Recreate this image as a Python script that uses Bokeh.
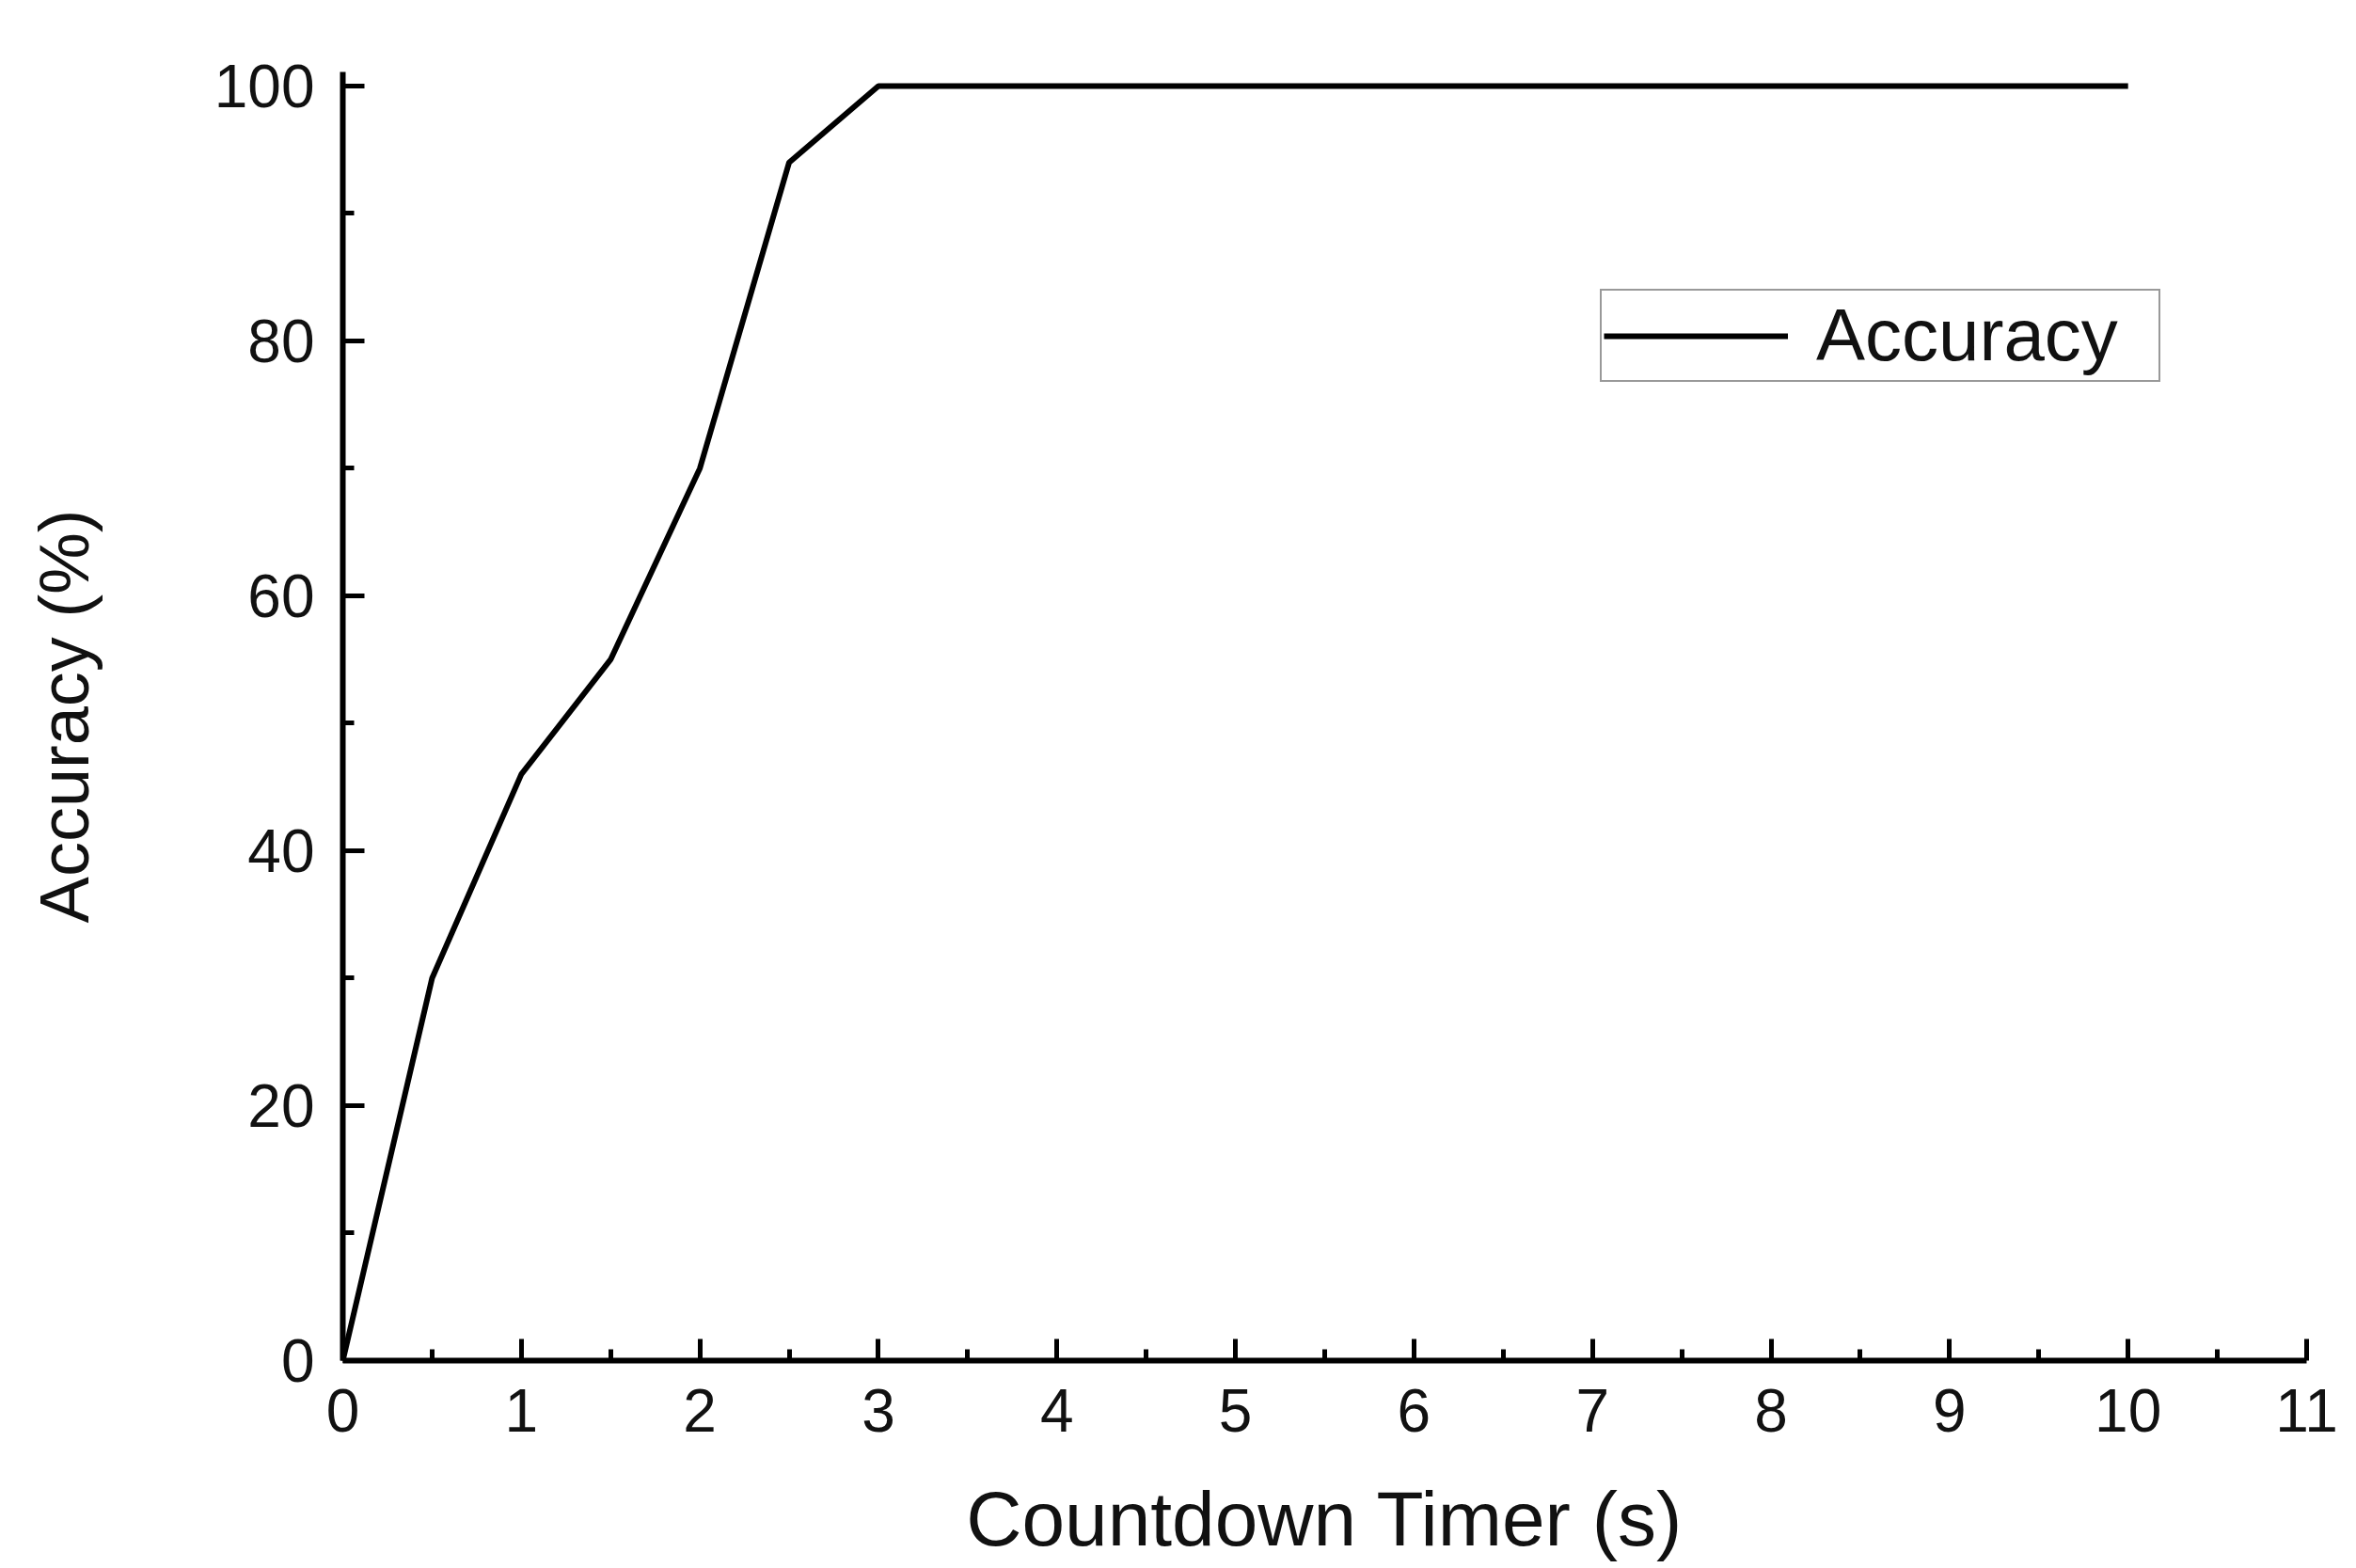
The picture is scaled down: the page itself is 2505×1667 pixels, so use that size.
from bokeh.plotting import figure
from bokeh.models import Range1d, FixedTicker, Legend, LegendItem
from bokeh.embed import file_html
from bokeh.resources import INLINE

# Data
timer_s = [0, 0.5, 1, 1.5, 2, 2.5, 3, 3.5, 4, 4.5, 5, 5.5, 6, 6.5, 7, 7.5, 8, 8.5, 9, 9.5, 10]
accuracy_pct = [0, 30, 46, 55, 70, 94, 100, 100, 100, 100, 100, 100, 100, 100, 100, 100, 100, 100, 100, 100, 100]

x_major_ticks = list(range(0, 12))
x_minor_ticks = [i + 0.5 for i in range(0, 11)]
y_major_ticks = [0, 20, 40, 60, 80, 100]
y_minor_ticks = [10, 30, 50, 70, 90]

FONT = "Liberation Sans"

p = figure(width=2490, height=1664, output_backend="svg", toolbar_location=None,
           x_range=Range1d(0, 11), y_range=Range1d(0, 101.1),
           min_border_left=364, min_border_right=38, min_border_top=76, min_border_bottom=218)

p.background_fill_color = "white"
p.border_fill_color = "white"
p.outline_line_color = None
p.xgrid.visible = False
p.ygrid.visible = False

r = p.line(timer_s, accuracy_pct, line_color="black", line_width=6)

for ax in (p.xaxis[0], p.yaxis[0]):
    ax.axis_line_width = 6
    ax.axis_line_color = "black"
    ax.major_tick_line_width = 5
    ax.minor_tick_line_width = 5
    ax.major_tick_in = 23
    ax.major_tick_out = 0
    ax.minor_tick_in = 12
    ax.minor_tick_out = 0
    ax.major_label_text_font = FONT
    ax.major_label_text_font_size = "64px"
    ax.major_label_text_color = "#111111"
    ax.axis_label_text_font = FONT
    ax.axis_label_text_font_style = "normal"
    ax.axis_label_text_color = "#111111"

p.xaxis.axis_label_text_font_size = "82px"
p.yaxis.axis_label_text_font_size = "74px"

p.xaxis.ticker = FixedTicker(ticks=x_major_ticks, minor_ticks=x_minor_ticks)
p.yaxis.ticker = FixedTicker(ticks=y_major_ticks, minor_ticks=y_minor_ticks)
p.xaxis.axis_label = "Countdown Timer (s)"
p.yaxis.axis_label = "Accuracy (%)"
p.xaxis.major_label_standoff = 30
p.xaxis.axis_label_standoff = 44
p.yaxis.major_label_standoff = 30
p.yaxis.axis_label_standoff = 115

legend = Legend(items=[LegendItem(label="Accuracy", renderers=[r])],
                location=(1337, 1040),
                label_text_font=FONT, label_text_font_size="78px", label_text_color="#111111",
                glyph_width=196, glyph_height=74, label_height=74, label_width=362,
                label_standoff=30,
                padding=2, margin=0, spacing=0,
                border_line_color="#333333", border_line_width=2,
                background_fill_color="white", background_fill_alpha=1.0)
p.add_layout(legend)

open("out.html", "w").write(file_html(p, INLINE))
